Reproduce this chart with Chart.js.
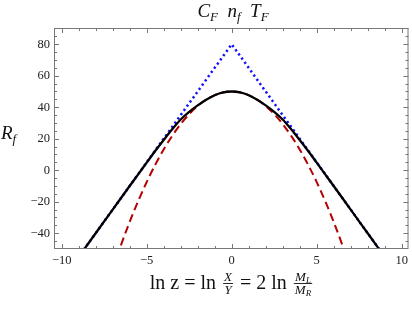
<!DOCTYPE html>
<html>
<head>
<meta charset="utf-8">
<script src="https://cdn.jsdelivr.net/npm/chart.js@4.4.0/dist/chart.umd.min.js"></script>
<style>
    html, body { margin: 0; padding: 0; background: #fff; }
    #wrap { width: 412px; height: 311px; }
</style>
</head>
<body>
<div id="wrap"><canvas id="chart" width="412" height="311"></canvas></div>
<script>
// dados
const blueX = [-10.5, 0, 10.5];
const blueY = [-77.5, 80, -77.5];

const redX = [-7, -6.5, -6, -5.5, -5, -4.5, -4, -3.5, -3, -2.5, -2, -1.5, -1, -0.5, 0,
              0.5, 1, 1.5, 2, 2.5, 3, 3.5, 4, 4.5, 5, 5.5, 6, 6.5, 7];
const redY = [-62.7, -47.2, -32.8, -19.6, -7.5, 3.4, 13.2, 21.8, 29.3, 35.6, 40.8, 44.8, 47.7, 49.4, 50,
              49.4, 47.7, 44.8, 40.8, 35.6, 29.3, 21.8, 13.2, 3.4, -7.5, -19.6, -32.8, -47.2, -62.7];

const blackX = [-10.5, -10, -9, -8, -7, -6, -5.5, -5, -4.5, -4, -3.5, -3, -2.5, -2, -1.5, -1, -0.5, 0,
                0.5, 1, 1.5, 2, 2.5, 3, 3.5, 4, 4.5, 5, 5.5, 6, 7, 8, 9, 10, 10.5];
const blackY = [-77.5, -70, -55, -40, -25, -10, -2.6, 4.8, 12.2, 19.2, 26, 32.2, 37.1, 41.2, 44.8, 47.6, 49.4, 50,
                49.4, 47.6, 44.8, 41.2, 37.1, 32.2, 26, 19.2, 12.2, 4.8, -2.6, -10, -25, -40, -55, -70, -77.5];

const xTicks = [-10, -5, 0, 5, 10];
const yTicks = [-40, -20, 0, 20, 40, 60, 80];

const serif = '"Liberation Serif", "DejaVu Serif", serif';

function pts(xs, ys) {
    return xs.map((x, i) => ({ x: x, y: ys[i] }));
}

function fmt(v) {
    return v < 0 ? '\u2212' + Math.abs(v) : String(v);
}

// mede / desenha pedaços de texto (subscritos e frações)
function runsWidth(ctx, runs) {
    let w = 0;
    runs.forEach(r => { ctx.font = r.font; w += ctx.measureText(r.t).width; });
    return w;
}

function measureItem(ctx, it) {
    if (it.frac) {
        return Math.max(runsWidth(ctx, it.num), runsWidth(ctx, it.den)) + 6;
    }
    ctx.font = it.font;
    return ctx.measureText(it.t).width;
}

function drawRuns(ctx, runs, x, base) {
    runs.forEach(r => {
        ctx.font = r.font;
        ctx.fillText(r.t, x, base + (r.dy || 0));
        x += ctx.measureText(r.t).width;
    });
}

function drawLine(ctx, items, cx, base) {
    const widths = items.map(it => measureItem(ctx, it));
    const total = widths.reduce((a, b) => a + b, 0);
    let x = cx - total / 2;
    ctx.textAlign = 'left';
    ctx.textBaseline = 'alphabetic';
    items.forEach((it, i) => {
        const w = widths[i];
        if (it.frac) {
            const bar = base - 6;
            ctx.fillRect(x + 2, bar, w - 4, 0.9);
            const wn = runsWidth(ctx, it.num), wd = runsWidth(ctx, it.den);
            drawRuns(ctx, it.num, x + (w - wn) / 2, bar - 2.5);
            drawRuns(ctx, it.den, x + (w - wd) / 2, bar + 11);
        } else {
            ctx.font = it.font;
            ctx.fillText(it.t, x, base + (it.dy || 0));
        }
        x += w;
    });
}

const labelsPlugin = {
    id: 'labels',
    afterDraw(chart) {
        const ctx = chart.ctx;
        const a = chart.chartArea;
        const xs = chart.scales.x, ys = chart.scales.y;
        ctx.save();

        // moldura
        ctx.strokeStyle = '#777';
        ctx.lineWidth = 1;
        ctx.strokeRect(a.left + 0.5, a.top + 0.5, a.right - a.left - 1, a.bottom - a.top - 1);

        // marcas internas nos quatro lados
        ctx.beginPath();
        for (let v = -10; v <= 10; v++) {
            const p = Math.round(xs.getPixelForValue(v)) + 0.5;
            const len = v % 5 === 0 ? 5 : 3;
            ctx.moveTo(p, a.bottom); ctx.lineTo(p, a.bottom - len);
            ctx.moveTo(p, a.top); ctx.lineTo(p, a.top + len);
        }
        for (let v = -45; v <= 90; v += 5) {
            const p = Math.round(ys.getPixelForValue(v)) + 0.5;
            const len = v % 20 === 0 ? 5 : 3;
            ctx.moveTo(a.left, p); ctx.lineTo(a.left + len, p);
            ctx.moveTo(a.right, p); ctx.lineTo(a.right - len, p);
        }
        ctx.stroke();

        ctx.fillStyle = '#111';
        const it19 = 'italic 19px ' + serif;
        const it13 = 'italic 13px ' + serif;

        // título
        drawLine(ctx, [
            { t: 'C', font: it19 }, { t: 'F', font: it13, dy: 4 }, { t: '  ', font: it19 },
            { t: 'n', font: it19 }, { t: 'f', font: it13, dy: 4 }, { t: '  ', font: it19 },
            { t: 'T', font: it19 }, { t: 'F', font: it13, dy: 4 }
        ], 233, 17);

        // eixo y
        drawRuns(ctx, [
            { t: 'R', font: 'italic 19px ' + serif },
            { t: 'f', font: 'italic 13px ' + serif, dy: 4 }
        ], 1, 139);

        // eixo x
        const up20 = '20px ' + serif;
        const fr = 'italic 13px ' + serif;
        const sub = 'italic 9px ' + serif;
        drawLine(ctx, [
            { t: 'ln z = ln ', font: up20 },
            { frac: true, num: [{ t: 'X', font: fr }], den: [{ t: 'Y', font: fr }] },
            { t: ' = 2 ln ', font: up20 },
            { frac: true,
              num: [{ t: 'M', font: fr }, { t: 'L', font: sub, dy: 2 }],
              den: [{ t: 'M', font: fr }, { t: 'R', font: sub, dy: 2 }] }
        ], 232, 289);

        ctx.restore();
    }
};

new Chart(document.getElementById('chart'), {
    type: 'scatter',
    data: {
        datasets: [
            {
                data: pts(blackX, blackY),
                showLine: true, borderColor: '#000', borderWidth: 2.3,
                pointRadius: 0, cubicInterpolationMode: 'monotone', order: 0, clip: 0
            },
            {
                data: pts(redX, redY),
                showLine: true, borderColor: '#b30000', borderWidth: 2,
                borderDash: [8, 4.5], pointRadius: 0, cubicInterpolationMode: 'monotone', order: 1, clip: 0
            },
            {
                data: pts(blueX, blueY),
                showLine: true, borderColor: '#1010ff', borderWidth: 2.5,
                borderDash: [2.2, 3], pointRadius: 0, tension: 0, order: 2, clip: 0
            }
        ]
    },
    options: {
        responsive: false,
        animation: false,
        devicePixelRatio: 1,
        layout: { autoPadding: false, padding: { top: 28, right: 2, left: 0, bottom: 0 } },
        plugins: { legend: { display: false }, tooltip: { enabled: false } },
        scales: {
            x: {
                type: 'linear', min: -10.45, max: 10.4,
                grid: { display: false, drawTicks: false },
                border: { display: false },
                afterBuildTicks: s => { s.ticks = xTicks.map(v => ({ value: v })); },
                afterFit: s => { s.height = 62; },
                ticks: { callback: fmt, padding: 4, color: '#222', font: { family: serif, size: 12.5 }, maxRotation: 0 }
            },
            y: {
                type: 'linear', min: -50, max: 90.3,
                grid: { display: false, drawTicks: false },
                border: { display: false },
                afterBuildTicks: s => { s.ticks = yTicks.map(v => ({ value: v })); },
                afterFit: s => { s.width = 54; },
                ticks: { callback: fmt, padding: 4, color: '#222', font: { family: serif, size: 12.5 } }
            }
        }
    },
    plugins: [labelsPlugin]
});
</script>
</body>
</html>
